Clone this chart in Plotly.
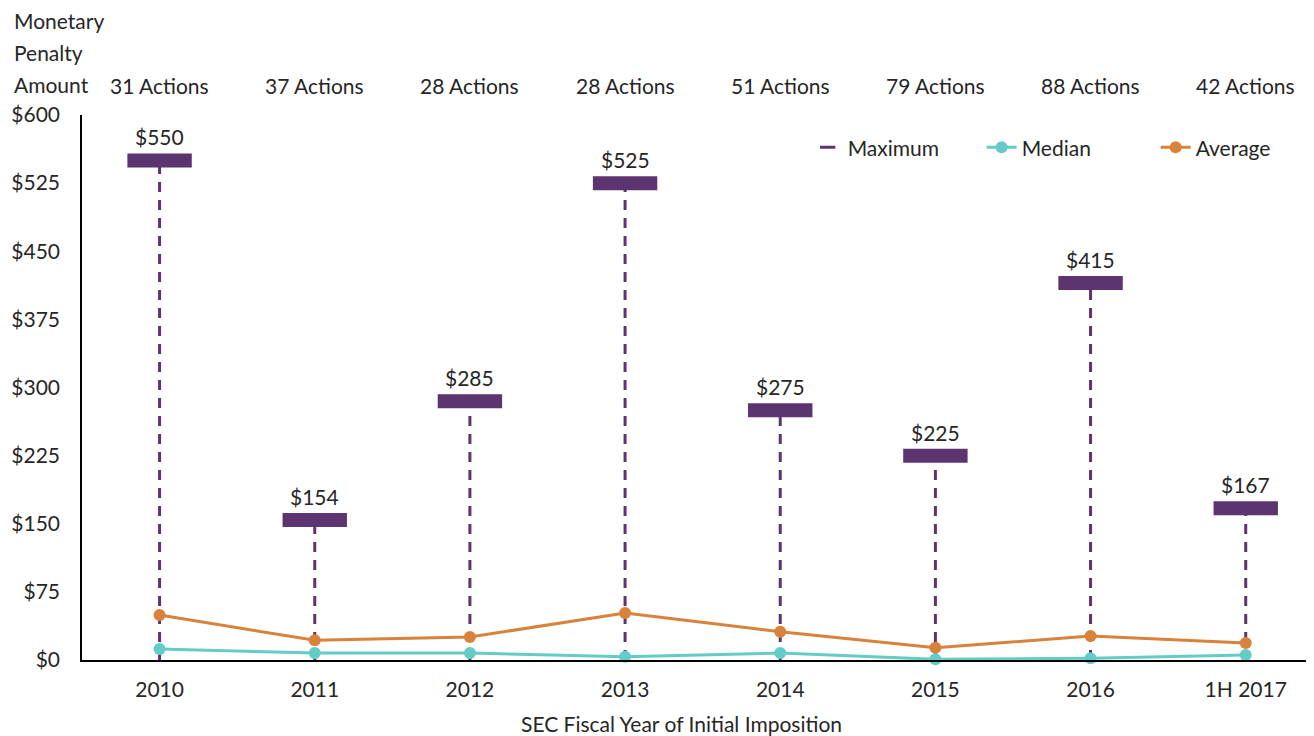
import plotly.graph_objects as go

categories = ["2010", "2011", "2012", "2013", "2014", "2015", "2016", "1H 2017"]
action_counts = [31, 37, 28, 28, 51, 79, 88, 42]
maximum = [550, 154, 285, 525, 275, 225, 415, 167]
median = [12.1, 7.7, 7.7, 3.6, 7.7, 0.8, 1.9, 5.5]
average = [49.5, 21.7, 25.3, 51.8, 31.2, 13.5, 26.4, 18.7]
y_ticks = [0, 75, 150, 225, 300, 375, 450, 525, 600]
title_lines = ["Monetary", "Penalty", "Amount"]

PURPLE = "#5C3470"
TEAL = "#63CCC6"
ORANGE = "#D8823A"
FONT = "Lato"
TXT = "#262626"
FS = 21

idx = list(range(len(categories)))

fig = go.Figure()

# dashed drop lines from maximum to zero
dx, dy = [], []
for i, m in zip(idx, maximum):
    dx += [i, i, None]
    dy += [0, m, None]
fig.add_trace(go.Scatter(x=dx, y=dy, mode="lines", showlegend=False, hoverinfo="skip",
                         line=dict(color=PURPLE, width=3, dash="10px,8px"), cliponaxis=False))

fig.add_trace(go.Scatter(x=idx, y=average, mode="lines+markers", name="Average",
                         line=dict(color=ORANGE, width=3), marker=dict(size=12, color=ORANGE),
                         cliponaxis=False, legendrank=3))
fig.add_trace(go.Scatter(x=idx, y=median, mode="lines+markers", name="Median",
                         line=dict(color=TEAL, width=3), marker=dict(size=12, color=TEAL),
                         cliponaxis=False, legendrank=2))

fig.add_trace(go.Scatter(x=idx, y=maximum, mode="markers", name="Maximum", showlegend=False,
                         marker=dict(symbol="line-ew", size=46, color=PURPLE,
                                     line=dict(color=PURPLE, width=14)), cliponaxis=False))
# legend entry for maximum
fig.add_trace(go.Scatter(x=[None], y=[None], mode="markers", name="Maximum", legendrank=1,
                         marker=dict(symbol="line-ew", size=11, color=PURPLE,
                                     line=dict(color=PURPLE, width=3))))

annotations = []
for i, m in zip(idx, maximum):
    annotations.append(dict(x=i, y=m, xref="x", yref="y", text=f"${m}", showarrow=False,
                            yanchor="bottom", yshift=9, font=dict(size=FS, color=TXT, family=FONT)))
for i, n in zip(idx, action_counts):
    annotations.append(dict(x=i, y=1, xref="x", yref="paper", text=f"{n} Actions", showarrow=False,
                            yanchor="middle", yshift=30, font=dict(size=FS, color=TXT, family=FONT)))
for k, line in enumerate(title_lines):
    annotations.append(dict(x=-0.0568, y=1, xref="paper", yref="paper", xanchor="left",
                            yanchor="middle", yshift=95 - 32 * k, showarrow=False, text=line,
                            font=dict(size=FS, color=TXT, family=FONT)))
annotations.append(dict(x=0.487, y=0, xref="paper", yref="paper", yanchor="middle", yshift=-63,
                        showarrow=False, text="SEC Fiscal Year of Initial Imposition",
                        font=dict(size=FS, color=TXT, family=FONT)))

fig.update_layout(
    width=1306, height=728,
    margin=dict(l=74, r=0, t=107, b=76, autoexpand=False),
    paper_bgcolor="white", plot_bgcolor="white",
    font=dict(family=FONT, size=FS, color=TXT),
    annotations=annotations,
    showlegend=True,
    legend=dict(orientation="h", x=0.589, y=0.94, xanchor="left", yanchor="middle",
                font=dict(size=FS, color=TXT, family=FONT), bgcolor="rgba(0,0,0,0)",
                traceorder="normal", entrywidth=129),
    xaxis=dict(range=[-0.5, 7.44], tickvals=idx, ticktext=categories, automargin=False,
               showline=True, linecolor="#000000", linewidth=1.5, showgrid=False,
               ticks="", ticklabelstandoff=10, tickfont=dict(size=FS, color=TXT, family=FONT),
               zeroline=False),
    yaxis=dict(range=[0, 600], tickvals=y_ticks, ticktext=[f"${v}" for v in y_ticks],
               automargin=False,
               showline=True, linecolor="#000000", linewidth=1.5, showgrid=False, zeroline=False,
               ticks="", ticklabelstandoff=16, tickfont=dict(size=FS, color=TXT, family=FONT)),
)

fig.write_html("out.html")
